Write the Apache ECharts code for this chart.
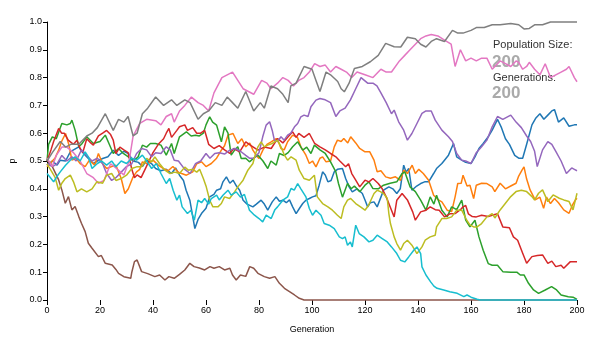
<!DOCTYPE html>
<html>
<head>
<meta charset="utf-8">
<script src="https://cdn.jsdelivr.net/npm/echarts@6/dist/echarts.min.js"></script>
<style>
html,body{margin:0;padding:0;background:#fff;}
#chart{width:600px;height:343px;}
</style>
</head>
<body>
<div id="chart"></div>
<script>
// Allele frequency p by generation, one [generation, p] list per simulated population
const seriesNames = ['A','B','C','D','E','F','G','H','I','J'];
const xTicks = [0,20,40,60,80,100,120,140,160,180,200];
const yTicks = [0,0.1,0.2,0.3,0.4,0.5,0.6,0.7,0.8,0.9,1.0];
const populationSize = 200;
const generations = 200;

const blue = [[0,0.485],[2,0.50],[3.8,0.485],[5,0.503],[7,0.50],[8.8,0.533],[10,0.54],[12,0.551],[13.8,0.527],[15.5,0.51],[17.5,0.491],[19,0.50],[21,0.509],[23,0.515],[25,0.539],[27,0.52],[29,0.535],[30.7,0.527],[32.5,0.50],[34.5,0.495],[36,0.48],[37.6,0.503],[39.5,0.49],[41,0.473],[43,0.465],[45,0.47],[47,0.455],[48.5,0.475],[50,0.449],[51.5,0.43],[52.5,0.395],[53.9,0.359],[55,0.30],[55.8,0.257],[57,0.29],[58.3,0.311],[60,0.33],[61.4,0.371],[63,0.38],[64,0.395],[65.5,0.40],[66.4,0.425],[67.7,0.443],[69,0.42],[70.2,0.431],[71.5,0.41],[72.7,0.395],[74,0.359],[75.5,0.345],[77.7,0.335],[79,0.345],[80.8,0.359],[82,0.345],[83.3,0.323],[85,0.353],[86.5,0.371],[87.7,0.355],[89,0.359],[90.3,0.35],[91.5,0.36],[92.7,0.335],[94,0.311],[95.3,0.33],[96.5,0.347],[97.7,0.359],[99,0.365],[100.2,0.371],[101.5,0.375],[102.7,0.413],[104,0.461],[105,0.45],[106,0.425],[107.2,0.43],[108.4,0.461],[109.6,0.47],[111.5,0.473],[112.7,0.437],[114,0.407],[115.2,0.389],[117,0.40],[119,0.383],[120,0.36],[121,0.335],[122,0.35],[123.4,0.353],[124.6,0.335],[126,0.37],[127,0.395],[129,0.407],[130.5,0.40],[132,0.383],[133.3,0.40],[134.6,0.485],[135.5,0.46],[136.5,0.473],[137.7,0.395],[139.5,0.41],[141,0.419],[142.5,0.425],[144,0.425],[145.9,0.455],[147,0.473],[149,0.491],[150,0.503],[151.5,0.521],[153.4,0.563],[154.6,0.515],[156.5,0.503],[158,0.495],[160,0.491],[161.5,0.515],[163,0.545],[164.6,0.563],[166.5,0.587],[168,0.611],[170,0.65],[171.5,0.62],[173,0.58],[174.5,0.56],[176.5,0.52],[178,0.51],[179.5,0.51],[181,0.56],[183,0.63],[184.5,0.655],[186,0.67],[187.5,0.65],[189,0.665],[190.5,0.68],[191.5,0.685],[193,0.64],[195,0.655],[197,0.625],[199,0.63],[200,0.63]];

const orange = [[0,0.479],[2,0.50],[3,0.51],[4.4,0.539],[5.5,0.57],[7,0.599],[8.2,0.56],[9.4,0.503],[11,0.51],[12.5,0.491],[14.4,0.48],[16,0.503],[18,0.485],[19.4,0.527],[21,0.49],[22.5,0.473],[24.4,0.48],[26,0.485],[28,0.437],[29.4,0.383],[30.7,0.40],[32.5,0.443],[33.8,0.461],[35,0.47],[36,0.497],[38,0.49],[40,0.503],[42,0.485],[43.8,0.473],[45.7,0.465],[47.5,0.48],[49.5,0.46],[50.8,0.455],[52.6,0.449],[55,0.461],[56.5,0.49],[58.3,0.497],[60,0.48],[62,0.491],[64,0.51],[65.8,0.539],[67,0.555],[68.3,0.593],[70.2,0.599],[72,0.563],[73.5,0.58],[75,0.551],[76.5,0.565],[77.7,0.539],[79,0.52],[80,0.509],[81.5,0.54],[83,0.56],[84.6,0.569],[86.5,0.58],[87.5,0.565],[88.3,0.545],[89.5,0.54],[90.8,0.569],[92.7,0.593],[94.5,0.585],[95.8,0.551],[97.7,0.521],[99,0.491],[100.2,0.50],[101.5,0.479],[103,0.51],[104,0.515],[105.3,0.497],[107,0.50],[108.4,0.551],[109.6,0.575],[111,0.57],[112,0.581],[113.5,0.565],[114.6,0.587],[116.5,0.565],[118,0.545],[120,0.533],[121.8,0.533],[123.4,0.503],[124.6,0.461],[126,0.465],[127.8,0.443],[129.6,0.438],[131.5,0.443],[133.4,0.43],[134.6,0.467],[136,0.455],[137.8,0.485],[139,0.455],[140.3,0.47],[142,0.455],[144,0.431],[145.9,0.377],[147.7,0.36],[149,0.353],[151,0.323],[152.7,0.318],[154,0.371],[155,0.419],[156.3,0.42],[157,0.449],[158.5,0.41],[159.6,0.413],[161,0.365],[162,0.413],[164,0.42],[166,0.419],[168,0.407],[169,0.39],[171,0.42],[173,0.40],[175,0.41],[177,0.42],[178,0.446],[179.3,0.468],[180,0.479],[181,0.435],[182.3,0.396],[184.2,0.36],[186,0.37],[187.4,0.33],[188.5,0.37],[190,0.347],[191.5,0.365],[193,0.35],[195,0.324],[197,0.312],[198.2,0.34],[199.4,0.36],[200,0.366]];

const green = [[0,0.50],[0.6,0.56],[2,0.587],[3.5,0.58],[5.6,0.635],[7.5,0.63],[8.8,0.635],[9.4,0.647],[10.6,0.611],[12,0.551],[13,0.56],[15,0.587],[17.5,0.563],[20,0.57],[22,0.593],[23.5,0.56],[25,0.527],[27,0.545],[28.8,0.527],[30.7,0.515],[32.5,0.50],[34.4,0.515],[36,0.557],[37.6,0.55],[39,0.563],[41,0.563],[43,0.557],[45,0.521],[47,0.563],[48,0.527],[50,0.587],[52.6,0.605],[54.4,0.59],[56,0.593],[57.5,0.59],[59,0.60],[60,0.63],[61.4,0.659],[62.5,0.64],[64,0.629],[65.8,0.569],[67,0.623],[68.3,0.60],[69.5,0.521],[70.8,0.539],[72,0.551],[73.3,0.509],[75,0.51],[76.4,0.497],[78,0.51],[79.6,0.521],[81.5,0.50],[83.3,0.473],[84.5,0.50],[86.5,0.485],[87.7,0.527],[89.5,0.52],[91,0.53],[92.7,0.551],[94.6,0.569],[96.5,0.539],[98,0.55],[99.6,0.527],[100.9,0.557],[103,0.54],[105,0.527],[107,0.497],[109,0.461],[110,0.419],[111.5,0.37],[113.4,0.419],[114.8,0.40],[116,0.41],[118,0.389],[120,0.413],[121.5,0.425],[123,0.401],[125,0.40],[127,0.413],[129.5,0.42],[132,0.425],[134,0.455],[135,0.461],[137,0.407],[139,0.39],[141,0.359],[143,0.323],[144.6,0.371],[146,0.345],[147,0.377],[149,0.323],[151,0.299],[152.7,0.335],[154.6,0.325],[156.5,0.359],[158,0.287],[159.6,0.263],[161.5,0.287],[163,0.227],[164.6,0.179],[166.5,0.131],[168,0.125],[170,0.125],[172,0.102],[175,0.10],[177.3,0.10],[178.6,0.09],[180,0.09],[181.7,0.06],[183.6,0.036],[185.5,0.024],[188,0.036],[190.4,0.048],[192.3,0.036],[194,0.018],[196.7,0.012],[198.5,0.01],[200,0.002]];

const red = [[0,0.50],[1.5,0.54],[2.5,0.57],[4.4,0.617],[5.5,0.60],[6.5,0.60],[8,0.575],[10,0.56],[11.3,0.575],[12.5,0.545],[13.5,0.53],[15,0.58],[16.5,0.565],[17.5,0.557],[19.4,0.59],[21,0.60],[22.5,0.61],[24,0.595],[25,0.575],[26,0.527],[27.5,0.55],[29,0.54],[30.6,0.53],[32,0.47],[33,0.44],[34,0.45],[35.5,0.44],[37,0.47],[38.5,0.50],[40,0.53],[42,0.56],[44,0.58],[45,0.60],[46,0.617],[47,0.585],[49,0.61],[50,0.623],[52,0.63],[53,0.61],[55,0.62],[56.5,0.60],[58,0.60],[59.5,0.61],[61,0.56],[63,0.545],[65,0.555],[67,0.54],[69,0.527],[70.5,0.545],[72.7,0.533],[75,0.569],[77,0.555],[79.6,0.539],[82,0.55],[84.6,0.545],[87,0.581],[89,0.565],[91,0.587],[92.7,0.605],[94,0.585],[95,0.599],[97,0.585],[99,0.599],[101,0.563],[103,0.551],[105,0.54],[107,0.527],[109,0.515],[110.5,0.50],[112.7,0.479],[113.8,0.49],[115,0.455],[116.5,0.431],[118,0.407],[120,0.431],[121.5,0.425],[123,0.437],[125,0.419],[126.5,0.40],[128,0.371],[130,0.323],[131,0.299],[132,0.359],[134,0.383],[136,0.36],[138,0.317],[139,0.287],[141,0.317],[143,0.323],[144.6,0.335],[146.5,0.325],[148,0.323],[150,0.299],[152,0.31],[154,0.311],[156,0.325],[157,0.335],[158,0.34],[159,0.31],[160.5,0.30],[162,0.299],[164,0.305],[166.5,0.30],[168,0.305],[170,0.31],[172,0.263],[174.5,0.26],[176,0.227],[177.6,0.215],[179.5,0.168],[181,0.132],[183,0.156],[185,0.16],[187,0.162],[189,0.132],[190.5,0.14],[192,0.12],[194,0.125],[195,0.114],[197.5,0.138],[200,0.138]];

const purple = [[0,0.49],[2,0.48],[3.8,0.49],[5.6,0.52],[7.5,0.50],[9.4,0.515],[11,0.50],[13,0.54],[15,0.52],[17,0.50],[19,0.51],[21,0.49],[22.5,0.455],[24.4,0.43],[26,0.44],[28,0.46],[30,0.48],[32,0.49],[33.8,0.527],[35.7,0.545],[37.6,0.54],[39.5,0.515],[41,0.53],[43,0.527],[45,0.551],[46.5,0.54],[48,0.503],[49.6,0.50],[52,0.47],[54,0.455],[56,0.49],[58,0.50],[60,0.527],[61.5,0.51],[63.3,0.527],[65,0.53],[67,0.525],[69,0.539],[71,0.545],[73,0.535],[75,0.52],[76.4,0.51],[78,0.51],[80,0.53],[81.4,0.587],[82.7,0.629],[84,0.641],[85,0.61],[85.8,0.575],[87,0.57],[88.3,0.587],[89.5,0.575],[90.8,0.593],[92,0.60],[93.4,0.623],[94.6,0.635],[95.8,0.659],[97,0.665],[98.5,0.66],[99.6,0.695],[101.5,0.719],[103,0.725],[105,0.72],[107,0.71],[109,0.66],[110.5,0.68],[112.5,0.69],[114.5,0.72],[116.5,0.76],[118.5,0.80],[121,0.78],[123,0.78],[124.5,0.77],[126,0.745],[128,0.71],[130,0.67],[131,0.683],[132.7,0.641],[134.6,0.611],[136,0.575],[137.7,0.599],[139.6,0.635],[141.5,0.671],[143,0.68],[145,0.68],[146.5,0.647],[149,0.611],[151.5,0.587],[153,0.57],[154.6,0.527],[156.5,0.503],[158,0.50],[160,0.491],[162,0.53],[164,0.551],[166,0.575],[168,0.623],[170,0.66],[172,0.65],[175,0.665],[177,0.64],[179,0.62],[181,0.59],[182.5,0.57],[184,0.535],[185,0.48],[187,0.54],[189,0.57],[190.5,0.56],[192,0.535],[194,0.50],[196,0.455],[198,0.475],[199,0.47],[200,0.465]];

const brown = [[0,0.50],[1.5,0.49],[2.5,0.47],[3.5,0.45],[4.4,0.432],[5.6,0.396],[6.9,0.348],[8.1,0.372],[9.4,0.324],[10.6,0.336],[12,0.30],[13,0.276],[14.4,0.246],[15.6,0.204],[17,0.186],[19.4,0.156],[20.5,0.16],[22,0.132],[24.6,0.126],[26,0.11],[27,0.096],[29,0.084],[31.6,0.078],[32,0.10],[33,0.138],[34,0.144],[35.7,0.102],[38,0.095],[40.7,0.084],[42.5,0.09],[44.5,0.072],[46,0.084],[48,0.078],[50,0.092],[52,0.108],[53.9,0.132],[55.5,0.12],[57.5,0.115],[59.5,0.108],[61.5,0.12],[63,0.114],[65,0.12],[67,0.108],[69,0.114],[70,0.09],[71.4,0.072],[73,0.09],[75,0.085],[76.5,0.12],[78,0.114],[79.6,0.096],[82,0.084],[84,0.078],[86,0.084],[87.7,0.06],[89.6,0.042],[91.5,0.03],[93.4,0.018],[95.2,0.006],[97,0],[200,0]];

const pink = [[0,0.51],[2,0.48],[3.5,0.52],[5.6,0.55],[7.5,0.55],[10,0.53],[12.5,0.50],[15,0.455],[17.5,0.44],[19.4,0.42],[21.5,0.43],[24,0.49],[26,0.475],[29,0.45],[31,0.50],[32.5,0.59],[35,0.635],[37.6,0.65],[41,0.645],[43,0.63],[45,0.66],[47,0.67],[48,0.64],[50,0.68],[52,0.70],[54.5,0.73],[57,0.71],[59,0.70],[61,0.68],[63,0.745],[66,0.80],[68,0.81],[70,0.82],[72,0.79],[74,0.76],[76,0.75],[78,0.74],[81,0.79],[83,0.78],[84.5,0.76],[87,0.78],[89,0.80],[91,0.79],[93,0.77],[95,0.79],[97,0.80],[99,0.82],[101,0.85],[103,0.84],[105,0.845],[107,0.82],[109,0.84],[111,0.83],[113,0.82],[115,0.80],[117,0.82],[120,0.81],[123,0.80],[126,0.83],[128,0.82],[130,0.82],[133,0.86],[135,0.88],[137,0.90],[139,0.92],[141,0.94],[143,0.95],[145,0.955],[147.5,0.95],[150,0.935],[152.5,0.92],[154,0.84],[156,0.90],[158,0.86],[160,0.87],[162,0.86],[164,0.87],[166,0.87],[168,0.83],[170,0.85],[171,0.86],[173,0.85],[175,0.84],[177,0.86],[178,0.855],[179.5,0.83],[181,0.84],[182,0.855],[184,0.83],[186,0.81],[188,0.85],[190,0.80],[192,0.81],[194,0.82],[196,0.83],[197,0.84],[199,0.80],[200,0.785]];

const gray = [[0,0.50],[2,0.53],[5,0.57],[7,0.55],[9,0.56],[12,0.56],[15,0.59],[17,0.60],[19,0.62],[22,0.67],[25,0.61],[27,0.65],[29,0.64],[30.6,0.66],[32.5,0.59],[34,0.60],[36,0.67],[38,0.69],[41,0.73],[43,0.71],[44,0.70],[47,0.72],[49,0.70],[52,0.72],[54,0.71],[57,0.65],[59,0.67],[61,0.68],[63.5,0.71],[66,0.70],[68,0.73],[70,0.71],[72,0.69],[75,0.75],[78,0.68],[80.5,0.71],[82,0.69],[84.5,0.77],[87,0.76],[89,0.74],[91,0.71],[92,0.77],[94,0.78],[97,0.84],[100,0.83],[101.5,0.79],[103,0.75],[105.3,0.82],[107,0.81],[109.7,0.786],[111,0.76],[112.2,0.749],[114,0.78],[116,0.833],[119,0.84],[122,0.857],[125,0.88],[127.8,0.923],[131,0.911],[133.5,0.91],[136,0.945],[139,0.94],[141,0.92],[143,0.91],[145,0.93],[147,0.94],[150,0.93],[153,0.97],[155,0.96],[157,0.96],[160,0.97],[162,0.98],[165,0.98],[168,0.99],[171,0.99],[175,0.995],[178,0.99],[180,0.975],[182,0.977],[184,0.99],[187,0.99],[190,1.0],[200,1.0]];

const olive = [[0,0.49],[1.9,0.46],[3.1,0.44],[4.4,0.395],[5.6,0.42],[6.9,0.437],[8.8,0.449],[10,0.425],[11.3,0.389],[13,0.40],[15,0.389],[17,0.40],[18.8,0.425],[21,0.42],[22.5,0.449],[24.4,0.455],[26,0.43],[28,0.437],[30,0.449],[32,0.473],[33.8,0.479],[35.7,0.479],[37.6,0.509],[39.5,0.497],[40.7,0.515],[42.5,0.49],[44.5,0.467],[46.4,0.455],[48.2,0.46],[50,0.455],[52,0.478],[53.3,0.467],[55,0.47],[56.5,0.46],[57.6,0.47],[59,0.437],[60.1,0.407],[61.4,0.359],[62.6,0.335],[64.5,0.335],[65.8,0.347],[67,0.371],[68.9,0.365],[70.8,0.389],[72,0.407],[74,0.431],[75.8,0.467],[77.7,0.491],[78.5,0.52],[79.6,0.551],[80.8,0.569],[82,0.551],[83.3,0.557],[85,0.563],[87,0.575],[88.3,0.551],[89.6,0.521],[90.8,0.503],[92.1,0.515],[94,0.503],[95.2,0.467],[97,0.437],[99,0.431],[100.9,0.449],[102,0.371],[104,0.347],[106,0.335],[107.7,0.323],[109.6,0.305],[111,0.293],[112,0.335],[113.4,0.359],[114.6,0.365],[116.5,0.347],[118.3,0.335],[120,0.323],[121.3,0.34],[123.4,0.383],[124.6,0.395],[125.8,0.39],[127,0.383],[128.4,0.365],[129,0.311],[129.6,0.275],[131,0.227],[132,0.203],[133.4,0.179],[134.6,0.203],[136,0.215],[137.7,0.197],[139.6,0.167],[141.5,0.191],[142.7,0.215],[144.6,0.227],[146.5,0.233],[147,0.263],[149,0.293],[150.8,0.293],[152.7,0.299],[154.6,0.323],[156.5,0.323],[158.4,0.287],[159.6,0.27],[161,0.263],[162.3,0.263],[164,0.275],[166,0.299],[168,0.311],[169,0.295],[171,0.324],[173,0.348],[175,0.372],[177,0.39],[179,0.395],[181,0.39],[183,0.372],[184,0.36],[185.5,0.384],[187,0.396],[189,0.354],[191,0.378],[193.3,0.366],[195,0.36],[197,0.354],[198.5,0.324],[200,0.384]];

const cyan = [[0,0.455],[1.3,0.44],[2.5,0.425],[3.8,0.445],[5,0.461],[7,0.485],[8.8,0.503],[10.6,0.515],[12.5,0.50],[14.4,0.533],[15.6,0.515],[17,0.473],[19,0.491],[20.6,0.50],[22.5,0.485],[24.4,0.50],[26,0.479],[28,0.50],[30,0.491],[32,0.51],[33.8,0.503],[36,0.521],[37.6,0.50],[39.5,0.473],[41.3,0.491],[43,0.455],[45,0.419],[46.3,0.437],[47.6,0.395],[49,0.359],[50,0.377],[51,0.335],[53,0.311],[54.3,0.323],[55.6,0.287],[57,0.359],[58.3,0.35],[59.5,0.365],[61,0.345],[62,0.365],[64,0.377],[65,0.36],[66.4,0.377],[68.3,0.395],[69.5,0.377],[71.4,0.389],[73,0.37],[74.5,0.38],[76.4,0.323],[78.3,0.305],[80,0.293],[81.4,0.281],[82.7,0.305],[84.6,0.293],[86,0.325],[87,0.335],[89,0.359],[90.8,0.371],[92.1,0.401],[93.3,0.395],[94.6,0.419],[95.8,0.40],[97.7,0.371],[99,0.329],[100.2,0.305],[101.5,0.323],[103.4,0.305],[104.6,0.275],[106.5,0.269],[108.4,0.257],[110.3,0.227],[111.5,0.221],[112.5,0.227],[113.4,0.197],[114.5,0.209],[115.2,0.191],[116.5,0.269],[117.8,0.239],[119.6,0.227],[121.5,0.209],[123,0.215],[124.6,0.233],[126.5,0.221],[128.4,0.209],[130,0.191],[132,0.167],[133.4,0.143],[135,0.137],[136.5,0.155],[138.4,0.179],[139.6,0.191],[141,0.167],[141.5,0.119],[143,0.09],[144.7,0.066],[146,0.05],[147.2,0.042],[149.7,0.036],[152,0.03],[154.8,0.024],[157.3,0.012],[158.5,0.018],[160,0.01],[162.3,0.003],[163.5,0],[200,0]];

const runs = [blue, orange, green, red, purple, brown, pink, gray, olive, cyan];
const colors = ['#1f77b4','#ff7f0e','#2ca02c','#d62728','#9467bd','#8c564b','#e377c2','#7f7f7f','#bcbd22','#17becf'];

const chart = echarts.init(document.getElementById('chart'), null, {renderer:'canvas'});
const font = '"Liberation Sans", Arial, Helvetica, sans-serif';

chart.setOption({
  animation: false,
  backgroundColor: '#fff',
  color: colors,
  grid: {left: 45, right: 23, top: 22, bottom: 43, containLabel: false},
  xAxis: {
    type: 'value', min: xTicks[0], max: xTicks[xTicks.length-1], interval: 20,
    name: 'Generation', nameLocation: 'middle', nameGap: 25,
    nameTextStyle: {color: '#000', fontSize: 9, fontFamily: font},
    axisLine: {show: false},
    axisTick: {show: true, length: 5, lineStyle: {color: '#000', width: 1}},
    axisLabel: {color: '#000', fontSize: 9, fontFamily: font, margin: 6},
    splitLine: {show: false}
  },
  yAxis: {
    type: 'value', min: yTicks[0], max: yTicks[yTicks.length-1], interval: 0.1,
    name: 'p', nameLocation: 'middle', nameGap: 30, nameRotate: 90,
    nameTextStyle: {color: '#000', fontSize: 9, fontFamily: font},
    axisLine: {show: true, lineStyle: {color: '#000', width: 1}},
    axisTick: {show: true, length: 4, lineStyle: {color: '#000', width: 1}},
    axisLabel: {color: '#000', fontSize: 9, fontFamily: font, margin: 5,
      formatter: v => v.toFixed(1)},
    splitLine: {show: false}
  },
  graphic: [
    {type: 'text', left: 493, top: 39, z: 0, style: {text: 'Population Size:', fill: '#333', font: '11px ' + font}},
    {type: 'text', left: 492, top: 54, z: 0, style: {text: String(populationSize), fill: '#aaa', font: 'bold 17px ' + font}},
    {type: 'text', left: 493, top: 72, z: 0, style: {text: 'Generations:', fill: '#333', font: '11px ' + font}},
    {type: 'text', left: 492, top: 85, z: 0, style: {text: String(generations), fill: '#aaa', font: 'bold 17px ' + font}}
  ],
  series: runs.map((d, i) => ({
    name: seriesNames[i],
    type: 'line',
    data: d,
    showSymbol: false,
    symbol: 'none',
    clip: false,
    lineStyle: {width: 1.5, color: colors[i]},
    emphasis: {disabled: true}
  }))
});
</script>
</body>
</html>
